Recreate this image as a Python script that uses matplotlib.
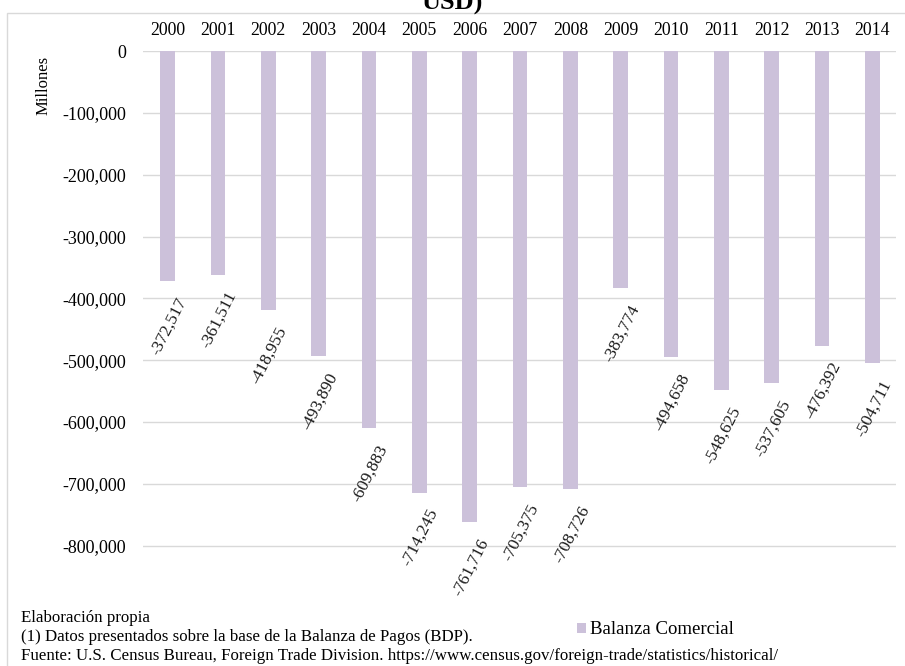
import matplotlib
matplotlib.use("Agg")
import matplotlib.pyplot as plt
from matplotlib.ticker import FuncFormatter
from matplotlib.patches import Rectangle

# Data
years = ["2000", "2001", "2002", "2003", "2004", "2005", "2006", "2007",
         "2008", "2009", "2010", "2011", "2012", "2013", "2014"]
balanza = [-372517, -361511, -418955, -493890, -609883, -714245, -761716, -705375,
           -708726, -383774, -494658, -548625, -537605, -476392, -504711]
y_ticks = [0, -100000, -200000, -300000, -400000, -500000, -600000, -700000, -800000]

plt.rcParams["font.family"] = ["Liberation Serif", "DejaVu Serif"]

W, H = 905, 666
fig = plt.figure(figsize=(W / 100, H / 100), dpi=100)
ax = fig.add_axes([143 / W, 1 - 595 / H, (896 - 143) / W, (595 - 51.3) / H])

x = list(range(len(years)))
ax.bar(x, balanza, width=0.29, color="#CCC1DA", label="Balanza Comercial", zorder=2)

# data labels, rotated
for xi, v in zip(x, balanza):
    ax.annotate(f"{v:,}", xy=(xi, v), xytext=(0.7, -32.5), textcoords="offset points",
                rotation=63, ha="center", va="center", fontsize=12.5, color="#1a1a1a")

ax.set_xlim(-0.49, 14.47)
ax.set_ylim(-880000, 0)
ax.set_yticks(y_ticks)
ax.yaxis.set_major_formatter(FuncFormatter(lambda v, p: f"{v:,.0f}"))
ax.set_xticks(x)
ax.set_xticklabels(years)
ax.xaxis.tick_top()
ax.tick_params(axis="x", length=0, pad=9, labelsize=12.8)
ax.tick_params(axis="y", length=0, pad=12, labelsize=13)
ax.grid(axis="y", color="#D9D9D9", linewidth=1, zorder=0)
for s in ax.spines.values():
    s.set_visible(False)
ax.set_ylabel("Millones", fontsize=12)
ax.yaxis.set_label_coords(-(143 - 52) / (896 - 143), 1 - (85 - 51.3) / (595 - 51.3))

# outer frame
fig.patches.append(Rectangle((7 / W, -0.1), 1.2, 1.1 - 13 / H, transform=fig.transFigure,
                             fill=False, edgecolor="#D9D9D9", linewidth=1))

# title (cut off at the top)
fig.text(0.5, 1 - 10 / H, "USD)", ha="center", va="baseline", fontsize=19, fontweight="bold")

# legend
fig.legend(loc="center left", bbox_to_anchor=(577 / W, 1 - 630 / H), frameon=False,
           handlelength=0.5, handleheight=0.5, handletextpad=0.2, borderpad=0,
           borderaxespad=0, fontsize=13.5)

# footnotes
notes = ["Elaboración propia",
         "(1) Datos presentados sobre la base de la Balanza de Pagos (BDP).",
         "Fuente: U.S. Census Bureau, Foreign Trade Division. https://www.census.gov/foreign-trade/statistics/historical/"]
for i, t in enumerate(notes):
    fig.text(21 / W, 1 - (618 + 19 * i) / H, t, ha="left", va="center", fontsize=12.2)

fig.savefig("out.png", dpi=100)
